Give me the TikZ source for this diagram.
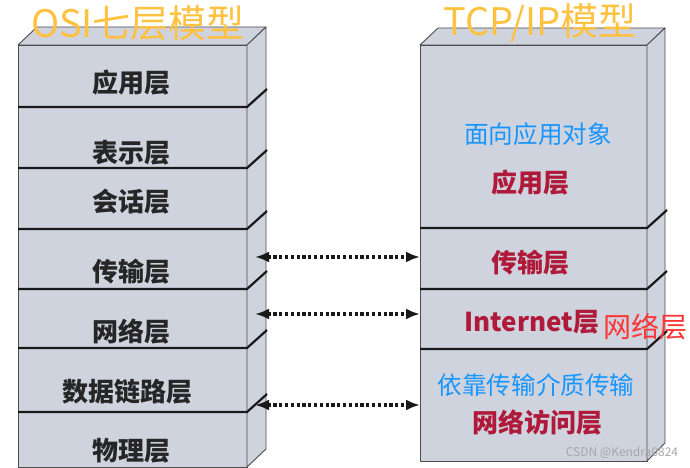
\documentclass[tikz,border=0pt]{standalone}
\usepackage{fontspec}
\setmainfont{Noto Sans CJK SC}
\usetikzlibrary{arrows.meta}

\definecolor{layerfill}{RGB}{207,211,222}
\definecolor{titleorange}{RGB}{255,194,64}
\definecolor{noteblue}{RGB}{24,150,255}
\definecolor{tcpred}{RGB}{176,26,58}
\definecolor{netred}{RGB}{255,52,52}

\begin{document}
\begin{tikzpicture}[x=1pt,y=-1pt,
  face/.style={draw=black!70,fill=layerfill,line width=.9pt,line join=round},
  divider/.style={line width=2.2pt,draw=black!90},
  osilabel/.style={font=\fontsize{26}{26}\selectfont\bfseries,text=black!85,inner sep=0pt},
  tcplabel/.style={font=\fontsize{26}{26}\selectfont\bfseries,text=tcpred,inner sep=0pt},
  note/.style={font=\fontsize{24.6}{25}\selectfont,text=noteblue,inner sep=0pt},
  title/.style={font=\fontsize{38}{38}\selectfont,text=titleorange,inner sep=0pt},
  pair/.style={{Latex[length=14pt,width=11pt]}-{Latex[length=14pt,width=11pt]},
               line width=3.6pt,dash pattern=on 3.2pt off 2.6pt,draw=black!90}
]
  \useasboundingbox (0,0) rectangle (690,468);

  % OSI stack
  \draw[face] (18,45) rectangle (247,467);
  \draw[face] (18,45) -- (37,27) -- (266,27) -- (247,45) -- cycle;
  \draw[face] (247,45) -- (266,27) -- (266,449) -- (247,467) -- cycle;
  \foreach \y in {107,168,229,289,348,412}
    \draw[divider] (18,\y) -- (247,\y) -- (267,\y-18);

  \node[osilabel] (app)  at (131,83)  {应用层};
  \node[osilabel] (pres) at (131,153) {表示层};
  \node[osilabel] (sess) at (131,202) {会话层};
  \node[osilabel] (trans) at (131,272) {传输层};
  \node[osilabel] (net)  at (131,332) {网络层};
  \node[osilabel] (dlink) at (127,392) {数据链路层};
  \node[osilabel] (phys) at (131,451) {物理层};

  % TCP/IP stack
  \draw[face] (420,45) rectangle (647,461);
  \draw[face] (420,45) -- (438,28) -- (665,28) -- (647,45) -- cycle;
  \draw[face] (647,45) -- (665,28) -- (665,443) -- (647,461) -- cycle;
  \foreach \y in {228,289,349}
    \draw[divider] (420,\y) -- (647,\y) -- (667,\y-18);

  \node[note]     (appnote) at (538,134) {面向应用对象};
  \node[tcplabel] (tapp)    at (530,183) {应用层};
  \node[tcplabel] (ttrans)  at (530,263) {传输层};
  \node[tcplabel] (tinet)   at (532,322) {Internet层};
  \node[note]     (accnote) at (536,385) {依靠传输介质传输};
  \node[tcplabel] (tacc)    at (537,423) {网络访问层};
  \node[font=\fontsize{28}{28}\selectfont,text=netred,inner sep=0pt]
    (netname) at (645,327) {网络层};

  % titles
  \node[title] (osititle) at (138,23) {OSI七层模型};
  \node[title] (tcptitle) at (540,23) {TCP/IP模型};

  % correspondences
  \coordinate (o1) at (255,257);  \coordinate (t1) at (420,257);
  \coordinate (o2) at (255,314);  \coordinate (t2) at (420,314);
  \coordinate (o3) at (255,405);  \coordinate (t3) at (420,405);
  \draw[pair] (o1) -- (t1);
  \draw[pair] (o2) -- (t2);
  \draw[pair] (o3) -- (t3);

  \node[font=\fontsize{12}{12}\selectfont,text=black!35,inner sep=0pt]
    (mark) at (622,453) {CSDN @Kendra0824};
\end{tikzpicture}
\end{document}
